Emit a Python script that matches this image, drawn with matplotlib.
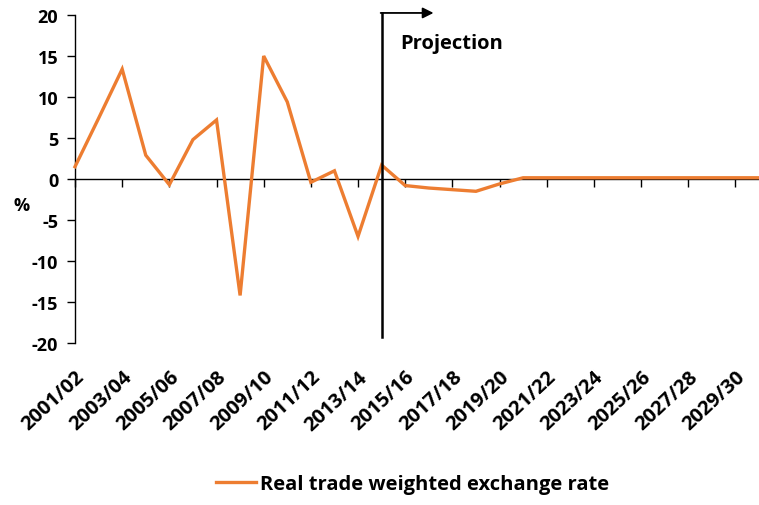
import matplotlib
matplotlib.use("Agg")
from matplotlib import pyplot as plt

plt.rcParams['font.family'] = ['Open Sans', 'DejaVu Sans']
plt.rcParams['font.weight'] = 'bold'
plt.rcParams['axes.unicode_minus'] = False

# financial years 2001/02 .. 2030/31
years = ['%d/%02d' % (y, (y + 1) % 100) for y in range(2001, 2031)]
rate = [1.5, 7.4, 13.4, 2.9, -0.7, 4.8, 7.2, -14.2, 15.0, 9.4,
        -0.4, 1.0, -7.0, 1.7, -0.8, -1.1, -1.3, -1.5, -0.6, 0.15,
        0.15, 0.15, 0.15, 0.15, 0.15, 0.15, 0.15, 0.15, 0.15, 0.15]
tick_labels = years[::2]
projection_from = '2014/15'

LINECOLOR = '#ED7D31'
YFS = 13      # y tick labels
XFS = 14.5    # category labels
TFS = 14.5    # legend / annotation

fig = plt.figure(figsize=(7.59, 5.06), dpi=100)
ax = fig.add_axes([75 / 759, 1 - 344 / 506, 1 - 75 / 759, (344 - 16) / 506])

x = list(range(len(years)))
ax.plot(x, rate, color=LINECOLOR, lw=2.4, solid_joinstyle='miter', clip_on=False, zorder=3,
        label='Real trade weighted exchange rate')

ax.set_xlim(0, len(years) - 1)
ax.set_ylim(-20, 20)
ax.set_yticks(range(-20, 21, 5))

# spines: y axis on left, x axis through zero
for s in ['top', 'right']:
    ax.spines[s].set_visible(False)
ax.spines['bottom'].set_position(('data', 0))
ax.spines['bottom'].set_linewidth(1.0)
ax.spines['left'].set_linewidth(1.0)
ax.set_xticks(x[::2])
ax.tick_params(axis='x', direction='out', length=6, width=1, labelbottom=False)
ax.tick_params(axis='y', direction='out', length=6, width=1, labelsize=YFS, pad=6)
for lab in ax.get_yticklabels():
    lab.set_fontweight('bold')

# category labels along the bottom of the plot
sec = ax.secondary_xaxis('bottom')
sec.spines['bottom'].set_visible(False)
sec.set_xticks(x[::2])
sec.set_xticklabels(tick_labels, rotation=43, ha='right', va='top',
                    rotation_mode='anchor', fontsize=XFS, fontweight='bold')
sec.tick_params(axis='x', length=0, pad=17)

ax.text(-0.078, 0.42, '%', transform=ax.transAxes, fontsize=YFS, fontweight='bold',
        ha='center', va='center')

# projection marker
px = years.index(projection_from)
ax.plot([px, px], [-19.3, 20.25], color='black', lw=1.8, clip_on=False, zorder=4)
ax.annotate('', xy=(px + 2.2, 20.25), xytext=(px - 0.04, 20.25),
            arrowprops=dict(arrowstyle='-|>', color='black', lw=1.3,
                            mutation_scale=16, shrinkA=0, shrinkB=0),
            annotation_clip=False)
ax.text(px + 0.8, 16.6, 'Projection', fontsize=TFS, fontweight='bold', ha='left', va='center')

fig.legend(loc='center', bbox_to_anchor=(0.5435, 1 - 485 / 506), frameon=False,
           handlelength=2.0, handletextpad=0.2,
           prop={'weight': 'bold', 'size': TFS})

fig.savefig('out.png', dpi=100)
